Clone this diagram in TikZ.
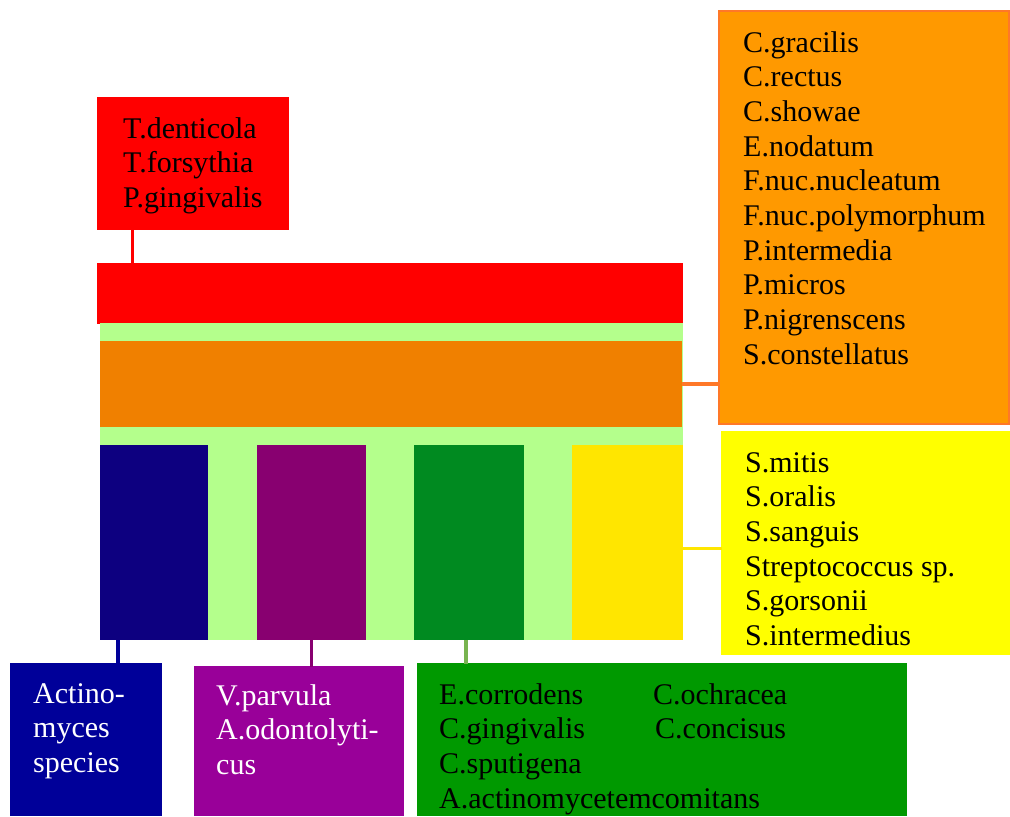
\documentclass[tikz,border=0pt]{standalone}
\usepackage{fontspec}
\setmainfont{Liberation Serif}
\usepackage{tikz}
\usetikzlibrary{positioning}
\usepackage{xcolor}
\definecolor{plred}{RGB}{255,0,0}
\definecolor{pllime}{RGB}{180,255,140}
\definecolor{plorangebar}{RGB}{240,128,0}
\definecolor{plorange}{RGB}{255,153,0}
\definecolor{plorangeline}{RGB}{255,120,40}
\definecolor{plyellowcol}{RGB}{255,230,0}
\definecolor{plyellow}{RGB}{255,255,0}
\definecolor{plbluecol}{RGB}{13,0,128}
\definecolor{plblue}{RGB}{0,0,153}
\definecolor{plpurplecol}{RGB}{136,0,112}
\definecolor{plpurple}{RGB}{153,0,153}
\definecolor{plgreencol}{RGB}{0,138,32}
\definecolor{plgreen}{RGB}{0,153,0}
\definecolor{plgreenline}{RGB}{120,180,80}
\tikzstyle{bar} = [rectangle, inner sep=0pt, outer sep=0pt, anchor=north west]
\tikzstyle{labelbox} = [rectangle, inner sep=0pt, outer sep=0pt, anchor=north west, line width=0.8pt]
\tikzstyle{species} = [anchor=north west, inner sep=0pt, align=left, font=\fontsize{15}{17.35}\selectfont]
\tikzstyle{link} = [line width=1.6pt]

\begin{document}
\begin{tikzpicture}[x=0.5pt, y=-0.5pt]
\useasboundingbox (0,0) rectangle (1010,816);
% Plaque layers
\node (redbar) [bar, fill=plred, minimum width=293pt, minimum height=30.5pt] at (97,263) {};
\node (back) [bar, fill=pllime, minimum width=291.5pt, minimum height=158.5pt] at (100,323) {};
\node (orangebar) [bar, fill=plorangebar, minimum width=291pt, minimum height=43pt] at (100,341) {};
\node (bluecol) [bar, fill=plbluecol, minimum width=54pt, minimum height=97.5pt] at (100,445) {};
\node (purplecol) [bar, fill=plpurplecol, minimum width=54.5pt, minimum height=97.5pt, right=24.5pt of bluecol] {};
\node (greencol) [bar, fill=plgreencol, minimum width=55pt, minimum height=97.5pt, right=24pt of purplecol] {};
\node (yellowcol) [bar, fill=plyellowcol, minimum width=55.5pt, minimum height=97.5pt, right=24pt of greencol] {};

% Species boxes
\node (redlabel) [labelbox, fill=plred, draw=plred, minimum width=95.2pt, minimum height=65.7pt] at (97.8,97.8) {};
\node (orangelabel) [labelbox, fill=plorange, draw=plorangeline, minimum width=145.2pt, minimum height=206.7pt] at (718.8,10.8) {};
\node (yellowlabel) [labelbox, fill=plyellow, draw=plyellow, minimum width=143.7pt, minimum height=111.2pt] at (721.8,431.8) {};
\node (bluelabel) [labelbox, fill=plblue, draw=plblue, minimum width=75.2pt, minimum height=75.7pt] at (10.8,663.8) {};
\node (purplelabel) [labelbox, fill=plpurple, draw=plpurple, minimum width=104.2pt, minimum height=74.2pt] at (194.8,666.8) {};
\node (greenlabel) [labelbox, fill=plgreen, draw=plgreen, minimum width=244.2pt, minimum height=75.7pt] at (417.8,663.8) {};

% Names
\node (redtext) [species, below right=9.5pt and 12.5pt of redlabel.north west] {T.denticola\\T.forsythia\\P.gingivalis};
\node (orangetext) [species, below right=10pt and 12pt of orangelabel.north west] {C.gracilis\\C.rectus\\C.showae\\E.nodatum\\F.nuc.nucleatum\\F.nuc.polymorphum\\P.intermedia\\P.micros\\P.nigrenscens\\S.constellatus};
\node (yellowtext) [species, below right=10pt and 11.5pt of yellowlabel.north west] {S.mitis\\S.oralis\\S.sanguis\\Streptococcus sp.\\S.gorsonii\\S.intermedius};
\node (bluetext) [species, text=white, below right=9.5pt and 11pt of bluelabel.north west] {Actino-\\myces\\species};
\node (purpletext) [species, text=white, below right=8.5pt and 10.5pt of purplelabel.north west] {V.parvula\\A.odontolyti-\\cus};
\node (greentext) [species, below right=9.5pt and 10.5pt of greenlabel.north west] {\makebox[107pt][l]{E.corrodens}C.ochracea\\\makebox[108pt][l]{C.gingivalis}C.concisus\\C.sputigena\\A.actinomycetemcomitans};

% Connectors
\draw[link, plred] ([xshift=17.5pt]redlabel.south west) -- ([xshift=17.5pt]redlabel.south west |- redbar.north);
\draw[link, plorangeline] (orangebar.east) -- (orangebar.east -| orangelabel.west);
\draw[link, plyellowcol] ([yshift=-3pt]yellowcol.east) -- ([yshift=-3pt]yellowcol.east -| yellowlabel.west);
\draw[link, plblue] ([xshift=9pt]bluecol.south west) -- ([xshift=9pt]bluecol.south west |- bluelabel.north);
\draw[link, plpurplecol] (purplecol.south) -- (purplecol.south |- purplelabel.north);
\draw[link, plgreenline] ([xshift=-1.5pt]greencol.south) -- ([xshift=-1.5pt]greencol.south |- greenlabel.north);
\end{tikzpicture}
\end{document}
